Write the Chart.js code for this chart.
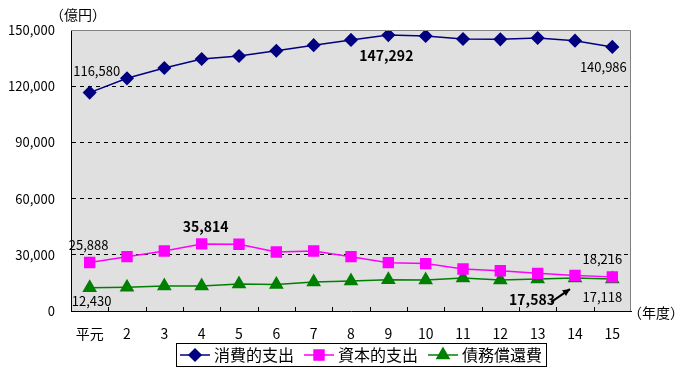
<!DOCTYPE html>
<html lang="ja">
<head>
<meta charset="utf-8">
<title>性質別歳出の推移</title>
<script src="https://cdn.jsdelivr.net/npm/chart.js@4"></script>
<style>
  html, body { margin: 0; padding: 0; background: #fff; }
  #wrap { position: relative; width: 684px; height: 372px; }
</style>
</head>
<body>
<div id="wrap"><canvas id="chart" width="684" height="372"></canvas></div>
<script>
// ─── DATA ──────────────────────────────────────────────────
const years       = ['平元', '2', '3', '4', '5', '6', '7', '8', '9', '10', '11', '12', '13', '14', '15'];
const seriesNames = ['消費的支出', '資本的支出', '債務償還費'];
const consumption = [116580, 124200, 129700, 134500, 136100, 138950, 141900, 144700, 147292, 146800, 145200, 145000, 145700, 144300, 140986];
const capital     = [25888, 29000, 32000, 35814, 35600, 31500, 32000, 29000, 25800, 25300, 22400, 21500, 20100, 19000, 18216];
const debt        = [12430, 12650, 13300, 13300, 14400, 14200, 15500, 16000, 16700, 16500, 17600, 16500, 17100, 17583, 17118];
const yTicks      = [0, 30000, 60000, 90000, 120000, 150000];

const FONT = '"MS PGothic", "Noto Sans CJK JP", sans-serif';
const fmt  = v => v.toLocaleString('en-US');

// labels shown next to points: [dataset, index, dx, dy, bold]
const pointLabels = [
  [0, 0,   7, -22, false],
  [0, 8,  -2,  21, true],
  [0, 14, -9,  20, false],
  [1, 0,  -1, -17, false],
  [1, 3,   4, -17, true],
  [1, 14, -10, -18, false],
  [2, 0,   2,  13, false],
  [2, 13, -43, 22, true],
  [2, 14, -10, 18, false],
];

// ─── PLUGINS ───────────────────────────────────────────────
const plotBox = {
  id: 'plotBox',
  beforeDraw(chart) {
    const { ctx, chartArea: a } = chart;
    ctx.save();
    ctx.fillStyle = '#e0e0e0';
    ctx.fillRect(a.left, a.top, a.right - a.left, a.bottom - a.top);
    ctx.restore();
  },
  afterDraw(chart) {
    const { ctx, chartArea: a, scales: { x } } = chart;
    ctx.save();
    // grey frame top / right
    ctx.strokeStyle = '#808080';
    ctx.lineWidth = 1;
    ctx.beginPath();
    ctx.moveTo(a.left, a.top + 0.5);
    ctx.lineTo(a.right - 0.5, a.top + 0.5);
    ctx.lineTo(a.right - 0.5, a.bottom);
    ctx.stroke();
    // inward category ticks
    ctx.strokeStyle = '#000';
    ctx.beginPath();
    for (let i = 1; i < years.length; i++) {
      const px = Math.round((x.getPixelForTick(i - 1) + x.getPixelForTick(i)) / 2) + 0.5;
      ctx.moveTo(px, a.bottom);
      ctx.lineTo(px, a.bottom - 4);
    }
    ctx.stroke();

    // unit labels
    ctx.fillStyle = '#000';
    ctx.font = '14px ' + FONT;
    ctx.textBaseline = 'middle';
    ctx.textAlign = 'center';
    ctx.fillText('（億円）', 78, 15);
    ctx.fillText('（年度）', 656, 313);
    ctx.restore();
  },
};

const valueLabels = {
  id: 'valueLabels',
  afterDatasetsDraw(chart) {
    const { ctx } = chart;
    ctx.save();
    ctx.fillStyle = '#000';
    ctx.textAlign = 'center';
    ctx.textBaseline = 'middle';
    pointLabels.forEach(([ds, i, dx, dy, bold]) => {
      const pt = chart.getDatasetMeta(ds).data[i];
      const v  = chart.data.datasets[ds].data[i];
      ctx.font = (bold ? 'bold 14px ' : '13px ') + FONT;
      ctx.fillText(fmt(v), pt.x + dx, pt.y + dy);
    });
    // arrow to 14年度 debt point
    const p = chart.getDatasetMeta(2).data[13];
    const x0 = p.x - 24, y0 = p.y + 24, x1 = p.x - 5, y1 = p.y + 11;
    ctx.strokeStyle = '#000';
    ctx.lineWidth = 2;
    ctx.beginPath();
    ctx.moveTo(x0, y0);
    ctx.lineTo(x1, y1);
    ctx.stroke();
    const ang = Math.atan2(y1 - y0, x1 - x0);
    ctx.beginPath();
    ctx.moveTo(x1, y1);
    ctx.lineTo(x1 - 8 * Math.cos(ang - 0.45), y1 - 8 * Math.sin(ang - 0.45));
    ctx.lineTo(x1 - 8 * Math.cos(ang + 0.45), y1 - 8 * Math.sin(ang + 0.45));
    ctx.closePath();
    ctx.fill();
    ctx.restore();
  },
};

const boxLegend = {
  id: 'boxLegend',
  afterDraw(chart) {
    const { ctx } = chart;
    const sets = chart.data.datasets;
    ctx.save();
    ctx.font = '16px ' + FONT;
    const lineLen = 30, gapText = 4, gapItem = 10, pad = 4;
    const widths = sets.map(d => lineLen + gapText + ctx.measureText(d.label).width);
    const total = widths.reduce((s, w) => s + w, 0) + gapItem * (sets.length - 1) + pad * 2;
    const cx = 361, top = 343, h = 23;
    const left = Math.round(cx - total / 2);
    ctx.fillStyle = '#fff';
    ctx.fillRect(left, top, total, h);
    ctx.strokeStyle = '#000';
    ctx.lineWidth = 1;
    ctx.strokeRect(left + 0.5, top + 0.5, total, h);

    let xPos = left + pad;
    const cy = top + h / 2 + 0.5;
    sets.forEach((d, i) => {
      ctx.strokeStyle = d.borderColor;
      ctx.lineWidth = 1.5;
      ctx.beginPath();
      ctx.moveTo(xPos, cy);
      ctx.lineTo(xPos + lineLen, cy);
      ctx.stroke();
      Chart.helpers.drawPoint(ctx, {
        pointStyle: d.pointStyle, radius: d.pointRadius, borderWidth: 1,
      }, xPos + lineLen / 2, cy);
      ctx.fillStyle = d.pointBackgroundColor;
      ctx.strokeStyle = d.pointBorderColor;
      ctx.fill();
      ctx.fillStyle = '#000';
      ctx.textAlign = 'left';
      ctx.textBaseline = 'middle';
      ctx.fillText(d.label, xPos + lineLen + gapText, cy);
      xPos += widths[i] + gapItem;
    });
    ctx.restore();
  },
};

// ─── CHART ─────────────────────────────────────────────────
function series(label, data, color, style, radius) {
  return {
    label, data,
    borderColor: color, backgroundColor: color,
    pointBackgroundColor: color, pointBorderColor: color,
    pointStyle: style, pointRadius: radius, pointHoverRadius: radius,
    borderWidth: 1.5, tension: 0,
  };
}

new Chart(document.getElementById('chart'), {
  type: 'line',
  data: {
    labels: years,
    datasets: [
      series(seriesNames[0], consumption, '#000080', 'rectRot', 6),
      series(seriesNames[1], capital,     '#ff00ff', 'rect',    7),
      series(seriesNames[2], debt,        '#008000', 'triangle', 7),
    ],
  },
  options: {
    responsive: false,
    animation: false,
    layout: { padding: { top: 30, right: 53, left: 0, bottom: 0 } },
    plugins: { legend: { display: false }, tooltip: { enabled: false } },
    scales: {
      x: {
        offset: true,
        grid: { display: false, drawTicks: false },
        border: { display: true, color: '#000', width: 1 },
        ticks: { color: '#000', padding: 14, font: { family: FONT, size: 14 }, maxRotation: 0 },
        afterFit: s => { s.height = 61; },
      },
      y: {
        min: 0, max: 150000,
        afterBuildTicks: s => { s.ticks = yTicks.map(v => ({ value: v })); },
        grid: {
          drawTicks: false,
          color: c => (c.tick && (c.tick.value === 0 || c.tick.value === 150000)) ? 'rgba(0,0,0,0)' : '#000',
          lineWidth: 1,
        },
        border: { display: true, color: '#000', width: 1, dash: [4, 4] },
        ticks: { color: '#000', padding: 16, font: { family: FONT, size: 13 }, callback: v => fmt(v) },
        afterFit: s => { s.width = 71; },
      },
    },
  },
  plugins: [plotBox, valueLabels, boxLegend],
});
</script>
</body>
</html>
